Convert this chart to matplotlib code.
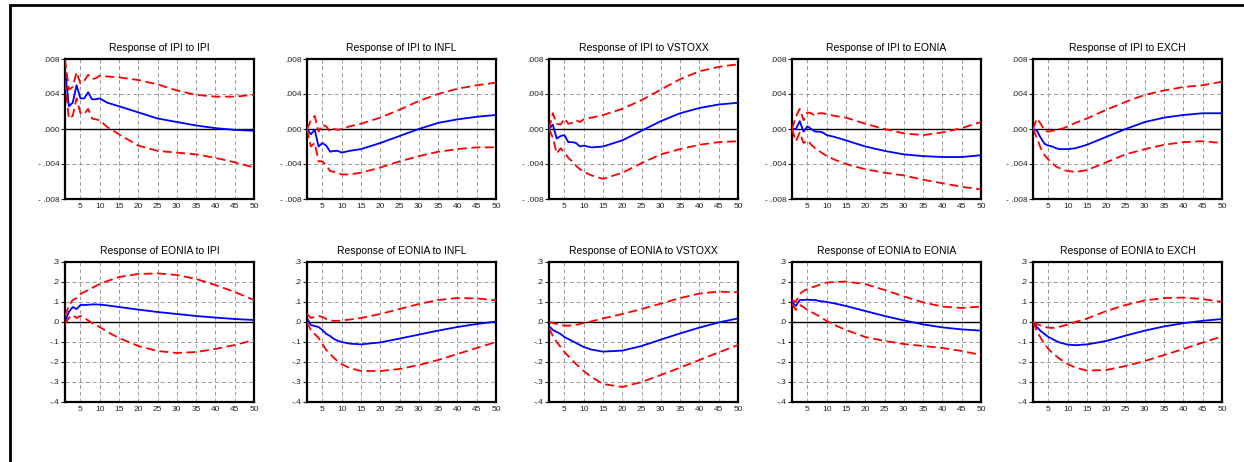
import numpy as np
import matplotlib.pyplot as plt
from matplotlib.patches import Rectangle

plt.rcParams['font.family'] = ['Liberation Sans', 'DejaVu Sans']

# horizons at which values were read
horizon = [1, 2, 3, 4, 5, 6, 7, 8, 9, 10, 12, 15, 20, 25, 30, 35, 40, 45, 50]

titles = ["Response of IPI to IPI", "Response of IPI to INFL", "Response of IPI to VSTOXX",
          "Response of IPI to EONIA", "Response of IPI to EXCH",
          "Response of EONIA to IPI", "Response of EONIA to INFL", "Response of EONIA to VSTOXX",
          "Response of EONIA to EONIA", "Response of EONIA to EXCH"]

# ---- IPI responses (row 1)
ipi_ipi = [0.0068, 0.0026, 0.0030, 0.0050, 0.0035, 0.0035, 0.0042, 0.0034, 0.0034, 0.0035,
           0.0030, 0.0026, 0.0019, 0.0012, 0.0008, 0.0004, 0.0001, -0.0001, -0.0002]
ipi_ipi_hi = [0.0080, 0.0045, 0.0048, 0.0065, 0.0052, 0.0055, 0.0062, 0.0057, 0.0058, 0.0061,
              0.0060, 0.0059, 0.0056, 0.0051, 0.0044, 0.0039, 0.0037, 0.0037, 0.0039]
ipi_ipi_lo = [0.0055, 0.0012, 0.0015, 0.0035, 0.0018, 0.0017, 0.0023, 0.0012, 0.0011, 0.0010,
              0.0002, -0.0006, -0.0019, -0.0025, -0.0027, -0.0029, -0.0033, -0.0038, -0.0044]

ipi_infl = [0.0, -0.0006, -0.0001, -0.0020, -0.0016, -0.0019, -0.0026, -0.0025, -0.0025, -0.0027,
            -0.0025, -0.0023, -0.0016, -0.0008, 0.0000, 0.0007, 0.0011, 0.0014, 0.0016]
ipi_infl_hi = [0.0, 0.0010, 0.0015, -0.0003, 0.0005, 0.0003, -0.0003, 0.0000, -0.0001, 0.0000,
               0.0003, 0.0006, 0.0013, 0.0022, 0.0032, 0.0040, 0.0046, 0.0050, 0.0053]
ipi_infl_lo = [0.0, -0.0020, -0.0016, -0.0037, -0.0037, -0.0042, -0.0048, -0.0049, -0.0050, -0.0052,
               -0.0052, -0.0050, -0.0044, -0.0037, -0.0031, -0.0026, -0.0023, -0.0021, -0.0021]

ipi_vstoxx = [0.0, 0.0005, -0.0011, -0.0008, -0.0007, -0.0015, -0.0015, -0.0016, -0.0020, -0.0019,
              -0.0021, -0.0020, -0.0013, -0.0002, 0.0009, 0.0018, 0.0024, 0.0028, 0.0030]
ipi_vstoxx_hi = [0.0, 0.0018, 0.0006, 0.0005, 0.0012, 0.0006, 0.0007, 0.0010, 0.0008, 0.0011,
                 0.0013, 0.0016, 0.0023, 0.0033, 0.0045, 0.0057, 0.0066, 0.0071, 0.0074]
ipi_vstoxx_lo = [0.0, -0.0010, -0.0028, -0.0022, -0.0027, -0.0033, -0.0037, -0.0042, -0.0046, -0.0049,
                 -0.0053, -0.0057, -0.0050, -0.0039, -0.0029, -0.0023, -0.0018, -0.0015, -0.0014]

ipi_eonia = [0.0, 0.0000, 0.0009, -0.0003, 0.0003, 0.0000, -0.0003, -0.0003, -0.0004, -0.0007,
             -0.0009, -0.0013, -0.0020, -0.0025, -0.0029, -0.0031, -0.0032, -0.0032, -0.0030]
ipi_eonia_hi = [0.0, 0.0014, 0.0023, 0.0010, 0.0019, 0.0018, 0.0015, 0.0018, 0.0018, 0.0017,
                0.0015, 0.0013, 0.0006, 0.0000, -0.0005, -0.0007, -0.0004, 0.0001, 0.0008]
ipi_eonia_lo = [0.0, -0.0014, -0.0004, -0.0016, -0.0013, -0.0018, -0.0022, -0.0025, -0.0028, -0.0031,
                -0.0035, -0.0040, -0.0046, -0.0050, -0.0053, -0.0058, -0.0062, -0.0066, -0.0069]

ipi_exch = [0.0, -0.0002, -0.0010, -0.0017, -0.0019, -0.0020, -0.0022, -0.0023, -0.0023, -0.0023,
            -0.0022, -0.0018, -0.0009, 0.0000, 0.0008, 0.0013, 0.0016, 0.0018, 0.0018]
ipi_exch_hi = [0.0, 0.0012, 0.0006, -0.0002, -0.0003, -0.0002, -0.0001, 0.0000, 0.0001, 0.0003,
               0.0007, 0.0012, 0.0022, 0.0031, 0.0039, 0.0044, 0.0048, 0.0050, 0.0054]
ipi_exch_lo = [0.0, -0.0010, -0.0022, -0.0030, -0.0035, -0.0039, -0.0043, -0.0045, -0.0047, -0.0048,
               -0.0049, -0.0047, -0.0038, -0.0029, -0.0023, -0.0018, -0.0015, -0.0014, -0.0016]

# ---- EONIA responses (row 2)
eonia_ipi = [0.0, 0.05, 0.075, 0.065, 0.085, 0.085, 0.086, 0.088, 0.088, 0.087,
             0.083, 0.075, 0.062, 0.050, 0.040, 0.030, 0.022, 0.015, 0.010]
eonia_ipi_hi = [0.03, 0.08, 0.11, 0.12, 0.14, 0.15, 0.16, 0.17, 0.18, 0.19,
                0.205, 0.225, 0.24, 0.243, 0.235, 0.215, 0.185, 0.15, 0.11]
eonia_ipi_lo = [-0.01, 0.02, 0.035, 0.02, 0.03, 0.02, 0.008, -0.005, -0.015, -0.025,
                -0.05, -0.08, -0.12, -0.145, -0.155, -0.15, -0.135, -0.115, -0.09]

eonia_infl = [0.02, -0.015, -0.02, -0.025, -0.04, -0.06, -0.07, -0.085, -0.094, -0.10,
              -0.108, -0.112, -0.102, -0.083, -0.063, -0.043, -0.025, -0.01, 0.002]
eonia_infl_hi = [0.04, 0.02, 0.025, 0.03, 0.025, 0.015, 0.01, 0.005, 0.006, 0.008,
                 0.012, 0.02, 0.04, 0.065, 0.09, 0.11, 0.12, 0.118, 0.108]
eonia_infl_lo = [0.0, -0.04, -0.06, -0.08, -0.11, -0.14, -0.16, -0.18, -0.197, -0.21,
                 -0.23, -0.245, -0.245, -0.235, -0.215, -0.19, -0.16, -0.13, -0.10]

eonia_vstoxx = [-0.02, -0.04, -0.05, -0.06, -0.075, -0.085, -0.095, -0.105, -0.115, -0.125,
                -0.138, -0.148, -0.143, -0.12, -0.088, -0.057, -0.028, -0.002, 0.018]
eonia_vstoxx_hi = [0.0, -0.005, -0.01, -0.015, -0.018, -0.018, -0.017, -0.014, -0.01, -0.005,
                   0.003, 0.018, 0.04, 0.065, 0.092, 0.12, 0.142, 0.152, 0.148]
eonia_vstoxx_lo = [-0.03, -0.07, -0.10, -0.125, -0.15, -0.17, -0.19, -0.21, -0.228, -0.245,
                   -0.275, -0.31, -0.325, -0.30, -0.265, -0.228, -0.19, -0.152, -0.115]

eonia_eonia = [0.10, 0.08, 0.11, 0.11, 0.112, 0.11, 0.11, 0.105, 0.103, 0.10,
               0.093, 0.08, 0.055, 0.03, 0.008, -0.012, -0.027, -0.037, -0.043]
eonia_eonia_hi = [0.11, 0.10, 0.14, 0.155, 0.165, 0.172, 0.178, 0.185, 0.192, 0.197,
                  0.20, 0.202, 0.19, 0.16, 0.128, 0.098, 0.077, 0.07, 0.077]
eonia_eonia_lo = [0.09, 0.06, 0.085, 0.075, 0.06, 0.05, 0.04, 0.03, 0.018, 0.005,
                  -0.015, -0.04, -0.075, -0.095, -0.11, -0.12, -0.13, -0.145, -0.165]

eonia_exch = [0.0, -0.025, -0.045, -0.06, -0.075, -0.085, -0.095, -0.103, -0.108, -0.113,
              -0.116, -0.112, -0.095, -0.068, -0.043, -0.022, -0.006, 0.006, 0.015]
eonia_exch_hi = [0.0, -0.01, -0.018, -0.025, -0.028, -0.03, -0.027, -0.023, -0.018, -0.013,
                 0.0, 0.017, 0.055, 0.085, 0.108, 0.12, 0.122, 0.115, 0.10]
eonia_exch_lo = [0.0, -0.045, -0.08, -0.11, -0.135, -0.155, -0.17, -0.185, -0.198, -0.21,
                 -0.228, -0.243, -0.24, -0.22, -0.195, -0.165, -0.135, -0.103, -0.072]

panels = [
    (ipi_ipi, ipi_ipi_hi, ipi_ipi_lo), (ipi_infl, ipi_infl_hi, ipi_infl_lo),
    (ipi_vstoxx, ipi_vstoxx_hi, ipi_vstoxx_lo), (ipi_eonia, ipi_eonia_hi, ipi_eonia_lo),
    (ipi_exch, ipi_exch_hi, ipi_exch_lo),
    (eonia_ipi, eonia_ipi_hi, eonia_ipi_lo), (eonia_infl, eonia_infl_hi, eonia_infl_lo),
    (eonia_vstoxx, eonia_vstoxx_hi, eonia_vstoxx_lo), (eonia_eonia, eonia_eonia_hi, eonia_eonia_lo),
    (eonia_exch, eonia_exch_hi, eonia_exch_lo),
]

row1_ticks = [-0.008, -0.004, 0.0, 0.004, 0.008]
row1_labels = ["- .008", "- .004", ".000", ".004", ".008"]
row2_ticks = [-0.4, -0.3, -0.2, -0.1, 0.0, 0.1, 0.2, 0.3]
row2_labels = ["-.4", "-.3", "-.2", "-.1", ".0", ".1", ".2", ".3"]
x_ticks = [5, 10, 15, 20, 25, 30, 35, 40, 45, 50]

W, H = 1244, 462
fig = plt.figure(figsize=(W / 100, H / 100), dpi=100)

# outer frame (only left and top edges visible in the picture)
fig.patches.append(Rectangle((10 / W, -0.1), 1.2, (1 - 5 / H) + 0.1, transform=fig.transFigure,
                             fill=False, edgecolor="black", linewidth=2.0))

lefts = [65, 307, 549, 792, 1033]
tops = [59, 262]
aw, ah = 189, 140

for i, (mid, hi, lo) in enumerate(panels):
    r, c = divmod(i, 5)
    ax = fig.add_axes([lefts[c] / W, 1 - (tops[r] + ah) / H, aw / W, ah / H])
    ax.plot(horizon, mid, color="#0000ff", lw=1.3, zorder=4)
    ax.plot(horizon, hi, color="#ff0000", lw=1.3, ls=(0, (5, 2.5)), zorder=4)
    ax.plot(horizon, lo, color="#ff0000", lw=1.3, ls=(0, (5, 2.5)), zorder=4)
    ax.axhline(0, color="black", lw=1.0, zorder=3)
    ax.set_xlim(1, 50)
    ax.set_xticks(x_ticks)
    if r == 0:
        ax.set_ylim(-0.008, 0.008)
        ax.set_yticks(row1_ticks)
        ax.set_yticklabels(row1_labels)
    else:
        ax.set_ylim(-0.4, 0.3)
        ax.set_yticks(row2_ticks)
        ax.set_yticklabels(row2_labels)
    ax.grid(True, color="#999999", ls=(0, (4, 3)), lw=0.7)
    for s in ax.spines.values():
        s.set_linewidth(1.6)
    ax.tick_params(axis="y", direction="out", length=3, width=0.8, labelsize=6, pad=1, colors="#222222")
    ax.tick_params(axis="x", direction="out", length=0, labelsize=6, pad=3, colors="#222222")
    ax.set_title(titles[i], fontsize=7.5, pad=6)

fig.savefig("out.png", dpi=100)
